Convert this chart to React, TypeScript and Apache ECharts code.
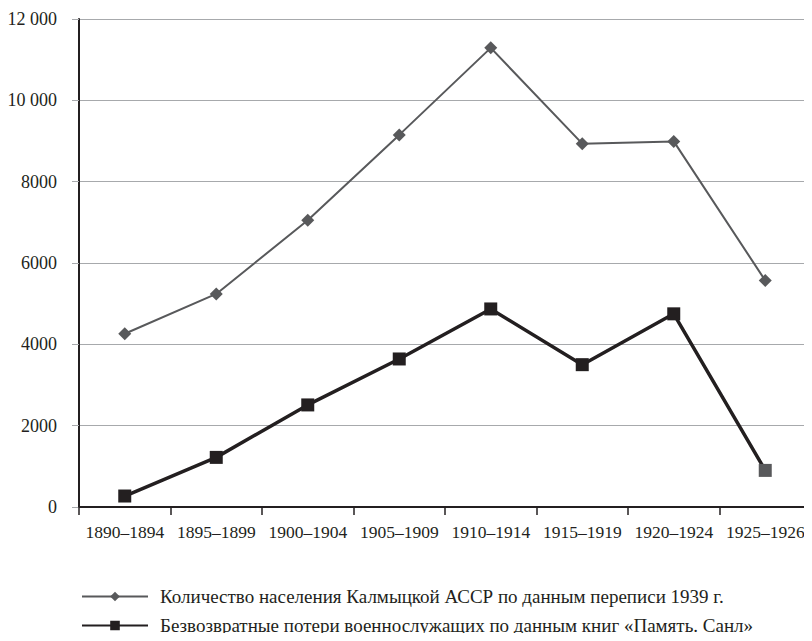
import React, { useEffect, useRef } from "react";
import * as echarts from "echarts";

const categories = [
  "1890–1894",
  "1895–1899",
  "1900–1904",
  "1905–1909",
  "1910–1914",
  "1915–1919",
  "1920–1924",
  "1925–1926",
];

const populationName = "Количество населения Калмыцкой АССР по данным переписи 1939 г.";
const lossesName = "Безвозвратные потери военнослужащих по данным книг «Память. Санл»";

const populationValues = [4260, 5240, 7050, 9150, 11290, 8935, 8990, 5570];
const lossesValues = [270, 1220, 2510, 3640, 4870, 3500, 4750, 900];

const yTicks = [0, 2000, 4000, 6000, 8000, 10000, 12000];

const FONT = "'Liberation Serif', 'DejaVu Serif', serif";
const TEXT = "#231f20";
const GRID = "#a7a9ac";

function formatTick(v: number): string {
  if (v >= 10000) {
    const s = String(v);
    return s.slice(0, s.length - 3) + " " + s.slice(-3);
  }
  return String(v);
}

const legendCommon = {
  orient: "horizontal",
  left: 81,
  itemWidth: 66,
  itemHeight: 12,
  padding: 0,
  textStyle: { fontFamily: FONT, fontSize: 19, color: TEXT, padding: [0, 0, 0, 7] },
};

export default function App() {
  const ref = useRef<HTMLDivElement>(null);

  useEffect(() => {
    if (!ref.current) return;
    const chart = echarts.init(ref.current, null, { renderer: "svg" });
    chart.setOption({
      animation: false,
      backgroundColor: "#ffffff",
      textStyle: { fontFamily: FONT, color: TEXT },
      grid: { left: 79, right: 1, top: 19, bottom: 134 },
      legend: [
        { ...legendCommon, top: 587, data: [populationName] },
        { ...legendCommon, top: 616, data: [lossesName] },
      ],
      xAxis: {
        type: "category",
        data: categories,
        boundaryGap: true,
        axisLine: { show: true, lineStyle: { color: TEXT, width: 2 } },
        axisTick: { show: true, length: 8, lineStyle: { color: TEXT, width: 1.5 } },
        axisLabel: {
          fontFamily: FONT,
          fontSize: 17.5,
          color: TEXT,
          margin: 16,
          interval: 0,
        },
        splitLine: { show: false },
      },
      yAxis: {
        type: "value",
        min: yTicks[0],
        max: yTicks[yTicks.length - 1],
        interval: 2000,
        axisLine: { show: true, lineStyle: { color: TEXT, width: 2 } },
        axisTick: { show: true, length: 7, lineStyle: { color: GRID, width: 1 } },
        axisLabel: {
          fontFamily: FONT,
          fontSize: 18,
          color: TEXT,
          margin: 22,
          formatter: (v: number) => formatTick(v),
        },
        splitLine: { show: true, lineStyle: { color: GRID, width: 1.2 } },
      },
      series: [
        {
          name: populationName,
          type: "line",
          data: populationValues,
          symbol: "diamond",
          symbolSize: 13,
          lineStyle: { color: "#58595b", width: 2 },
          itemStyle: { color: "#58595b" },
          z: 3,
        },
        {
          name: lossesName,
          type: "line",
          data: lossesValues.map((v, i) =>
            i === lossesValues.length - 1
              ? { value: v, itemStyle: { color: "#58595b" } }
              : v
          ),
          symbol: "rect",
          symbolSize: 13,
          lineStyle: { color: TEXT, width: 3.5 },
          itemStyle: { color: TEXT },
          z: 4,
        },
      ],
    });
    return () => chart.dispose();
  }, []);

  return <div ref={ref} style={{ width: 812, height: 641, margin: -8 }} />;
}
